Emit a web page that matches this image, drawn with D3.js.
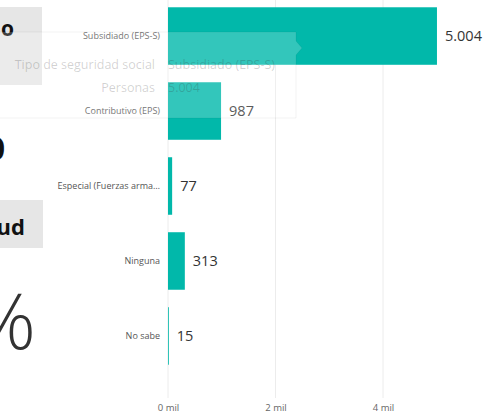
<!DOCTYPE html>
<html>
<head>
<meta charset="utf-8">
<script src="https://cdn.jsdelivr.net/npm/d3@7"></script>
<style>
  body { margin: 0; background: #fff; }
  svg { display: block; font-family: "Open Sans", "Noto Sans", sans-serif; }
</style>
</head>
<body>
<div id="chart"></div>
<script>
// data
const categories = ["Subsidiado (EPS-S)", "Contributivo (EPS)", "Especial (Fuerzas arma\u2026", "Ninguna", "No sabe"];
const personas = [5004, 987, 77, 313, 15];
const tickValues = [0, 2000, 4000];
const tooltipRows = [["Tipo de seguridad social", "Subsidiado (EPS-S)"], ["Personas", "5.004"]];

const W = 483, H = 416;
const fmtNum = d3.format(",");
const esNum = d => fmtNum(d).replace(/,/g, ".");

const svg = d3.select("#chart").append("svg")
  .attr("width", W).attr("height", H);

// left panel fragments (cards cut off by the crop)
const left = svg.append("g").attr("class", "left-panel");
left.append("rect").attr("x", 0).attr("y", 7).attr("width", 42).attr("height", 78).attr("fill", "#e6e6e6");
left.append("text").attr("x", 14).attr("y", 36).attr("text-anchor", "end")
  .attr("font-size", 21).attr("font-weight", "bold").attr("fill", "#111").text("o");
left.append("text").attr("x", 5).attr("y", 160).attr("text-anchor", "end")
  .attr("font-size", 33).attr("font-weight", "bold").attr("fill", "#111").text("0");
left.append("rect").attr("x", 0).attr("y", 200).attr("width", 43).attr("height", 48).attr("fill", "#e6e6e6");
left.append("text").attr("x", 25).attr("y", 235).attr("text-anchor", "end")
  .attr("font-size", 22).attr("font-weight", "bold").attr("fill", "#111").text("ud");
left.append("text").attr("x", 36).attr("y", 349).attr("text-anchor", "end")
  .attr("font-size", 78).attr("font-weight", 300).attr("fill", "#333").text("%");

// scales
const x = d3.scaleLinear().domain([0, 4000]).range([168, 383]);
const y = d3.scaleBand().domain(categories).range([-1.5, 373.5])
  .paddingInner(0.233).paddingOuter(0.117);

// gridlines
svg.append("g").selectAll("line").data(tickValues).join("line")
  .attr("x1", d => x(d)).attr("x2", d => x(d))
  .attr("y1", 0).attr("y2", 398)
  .attr("stroke", "#ececec").attr("stroke-width", 1);

// x axis
const xAxis = svg.append("g").attr("transform", "translate(0,398)")
  .call(d3.axisBottom(x).tickValues(tickValues).tickSize(0).tickPadding(6)
    .tickFormat(d => (d / 1000) + " mil"));
xAxis.select(".domain").remove();
xAxis.selectAll("text").attr("font-size", 9.5).attr("fill", "#666")
  .attr("font-family", "\"Open Sans\", sans-serif");

// y axis labels
const yAxis = svg.append("g").attr("transform", "translate(168,0)")
  .call(d3.axisLeft(y).tickSize(0).tickPadding(8));
yAxis.select(".domain").remove();
yAxis.selectAll("text").attr("font-size", 9).attr("fill", "#555")
  .attr("font-family", "\"Open Sans\", sans-serif");

// bars
svg.append("g").selectAll("rect").data(categories).join("rect")
  .attr("x", x(0))
  .attr("y", d => y(d))
  .attr("width", (d, i) => x(personas[i]) - x(0))
  .attr("height", y.bandwidth())
  .attr("fill", "#01B8AA");

// data labels
svg.append("g").selectAll("text").data(categories).join("text")
  .attr("x", (d, i) => x(personas[i]) + 8)
  .attr("y", d => y(d) + y.bandwidth() / 2)
  .attr("dy", "0.35em")
  .attr("font-size", 14.5)
  .attr("fill", "#333")
  .text((d, i) => esNum(personas[i]));

// hover tooltip (faded)
const tip = svg.append("g").attr("class", "tooltip");
tip.append("path")
  .attr("d", "M-2,32 H296 V41 L302,48 L296,55 V118 H-2 Z")
  .attr("fill", "#fff").attr("fill-opacity", 0.2)
  .attr("stroke", "#000").attr("stroke-opacity", 0.05);
tooltipRows.forEach((r, i) => {
  const ty = 69 + i * 23;
  tip.append("text").attr("x", 155).attr("y", ty).attr("text-anchor", "end")
    .attr("font-size", 12.5).attr("fill", "#333").attr("fill-opacity", 0.22).text(r[0]);
  tip.append("text").attr("x", 168).attr("y", ty)
    .attr("font-size", 12.5).attr("fill", "#333").attr("fill-opacity", 0.22).text(r[1]);
});
</script>
</body>
</html>
